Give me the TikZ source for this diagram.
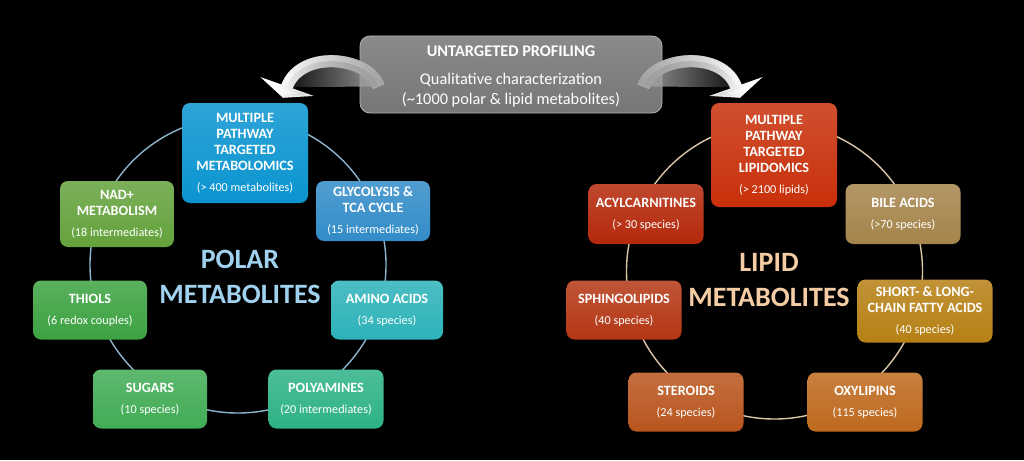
\documentclass[tikz,border=0pt]{standalone}
\usepackage{fontspec}
\setmainfont{Carlito}
\usetikzlibrary{arrows.meta,calc,fadings}

\definecolor{polmainc}{RGB}{10,148,208}
\definecolor{glycc}{RGB}{50,140,200}
\definecolor{aminoc}{RGB}{45,178,185}
\definecolor{polyc}{RGB}{45,178,135}
\definecolor{sugarc}{RGB}{65,172,85}
\definecolor{thiolc}{RGB}{60,162,65}
\definecolor{nadc}{RGB}{100,162,60}
\definecolor{lipmainc}{RGB}{200,48,10}
\definecolor{acylc}{RGB}{180,40,10}
\definecolor{sphc}{RGB}{180,55,20}
\definecolor{sterc}{RGB}{185,85,30}
\definecolor{oxyc}{RGB}{190,105,30}
\definecolor{shortc}{RGB}{182,128,20}
\definecolor{bilec}{RGB}{165,132,75}
\definecolor{polline}{RGB}{140,180,205}
\definecolor{lipline}{RGB}{220,198,168}
\definecolor{polhubc}{RGB}{160,210,240}
\definecolor{liphubc}{RGB}{245,205,165}
\definecolor{profc}{RGB}{118,118,118}

\tikzfading[name=tailright, left color=transparent!100, right color=transparent!0]
\tikzfading[name=tailleft, left color=transparent!0, right color=transparent!100]

\newcommand\cnt[1]{{\mdseries\fontsize{12.2}{15}\selectfont #1}}

\begin{document}
\begin{tikzpicture}[
  x=1pt, y=-1pt,
  box/.style={rounded corners=8pt, align=center, text=white, inner sep=2pt,
              font=\fontsize{14.2}{16}\selectfont\bfseries,
              minimum width=114pt, minimum height=59pt},
  pbox/.style={box, top color=#1!85!white, bottom color=#1},
  ring/.style={circle, draw=#1, line width=1.4pt, minimum size=296pt, inner sep=0pt},
  hub/.style={align=center, font=\fontsize{28}{35}\selectfont\bfseries},
  swoop/.style={line width=12pt, -{Triangle[length=12pt, width=56pt]}}
]
\fill[black] (0,0) rectangle (1024,460);
\useasboundingbox (0,0) rectangle (1024,460);

% rings behind the boxes
\node[ring=polline] (polcirc) at (238,265) {};
\node[ring=lipline] (lipcirc) at (774.5,271) {};

% polar side
\node[pbox=polmainc, minimum width=126pt, minimum height=100pt] (polmain) at (245,153)
  {MULTIPLE\\PATHWAY\\TARGETED\\METABOLOMICS\\[5pt]\cnt{(> 400 metabolites)}};
\node[pbox=nadc, minimum height=66pt] (nad) at (117,214) {NAD+\\METABOLISM\\[5pt]\cnt{(18 intermediates)}};
\node[pbox=glycc, minimum height=60pt] (glyc) at (373,211) {GLYCOLYSIS \&\\TCA CYCLE\\[5pt]\cnt{(15 intermediates)}};
\node[pbox=thiolc] (thiols) at (90,310) {THIOLS\\[5pt]\cnt{(6 redox couples)}};
\node[pbox=aminoc, minimum width=112pt] (amino) at (387,310) {AMINO ACIDS\\[5pt]\cnt{(34 species)}};
\node[pbox=sugarc] (sugars) at (150,399) {SUGARS\\[5pt]\cnt{(10 species)}};
\node[pbox=polyc, minimum width=115pt] (polyam) at (326,399) {POLYAMINES\\[5pt]\cnt{(20 intermediates)}};
\node[hub, text=polhubc] (poltitle) at (240,277) {POLAR\\METABOLITES};

% lipid side
\node[pbox=lipmainc, minimum width=126pt, minimum height=104pt] (lipmain) at (774,155)
  {MULTIPLE\\PATHWAY\\TARGETED\\LIPIDOMICS\\[5pt]\cnt{(> 2100 lipids)}};
\node[pbox=acylc, minimum width=115pt, minimum height=60pt] (acyl) at (646,214) {ACYLCARNITINES\\[5pt]\cnt{(> 30 species)}};
\node[pbox=bilec, minimum width=115pt, minimum height=60pt] (bile) at (903,214) {BILE ACIDS\\[5pt]\cnt{(>70 species)}};
\node[pbox=sphc, minimum width=115pt] (sphingo) at (624,310) {SPHINGOLIPIDS\\[5pt]\cnt{(40 species)}};
\node[pbox=shortc, minimum width=135pt, minimum height=63pt] (fatty) at (925,311) {SHORT- \& LONG-\\CHAIN FATTY ACIDS\\[5pt]\cnt{(40 species)}};
\node[pbox=sterc, minimum width=115pt] (steroids) at (686,402) {STEROIDS\\[5pt]\cnt{(24 species)}};
\node[pbox=oxyc, minimum width=115pt] (oxy) at (865,402) {OXYLIPINS\\[5pt]\cnt{(115 species)}};
\node[hub, text=liphubc] (liptitle) at (769,280) {LIPID\\METABOLITES};

% untargeted profiling
\node[draw=gray!60, line width=0.8pt, rounded corners=10pt, top color=profc!85!white, bottom color=profc,
      text=white, align=center, minimum width=302pt, minimum height=77pt,
      font=\fontsize{16.3}{20}\selectfont] (prof) at (511,74.5)
  {\rule{0pt}{15pt}{\bfseries UNTARGETED PROFILING}\\[8pt]Qualitative characterization\\(\textasciitilde1000 polar \& lipid metabolites)};

% curved arrows
\coordinate (ltail) at ($(prof.west)+(19,12)$);
\coordinate (ltip) at ($(polmain.north)+(38,-5)$);
\coordinate (rtail) at ($(prof.east)+(-19,12)$);
\coordinate (rtip) at ($(lipmain.north)+(-34,-5)$);
\draw[swoop, white] (ltail) .. controls ($(ltail)+(-11,-31)$) and ($(ltip)+(17,-48)$) .. (ltip);
\draw[swoop, draw=gray!75, fill=gray!75, path fading=tailright] (ltail) .. controls ($(ltail)+(-11,-31)$) and ($(ltip)+(17,-48)$) .. (ltip);
\draw[swoop, white] (rtail) .. controls ($(rtail)+(11,-31)$) and ($(rtip)+(-17,-48)$) .. (rtip);
\draw[swoop, draw=gray!75, fill=gray!75, path fading=tailleft] (rtail) .. controls ($(rtail)+(11,-31)$) and ($(rtip)+(-17,-48)$) .. (rtip);
\end{tikzpicture}
\end{document}
